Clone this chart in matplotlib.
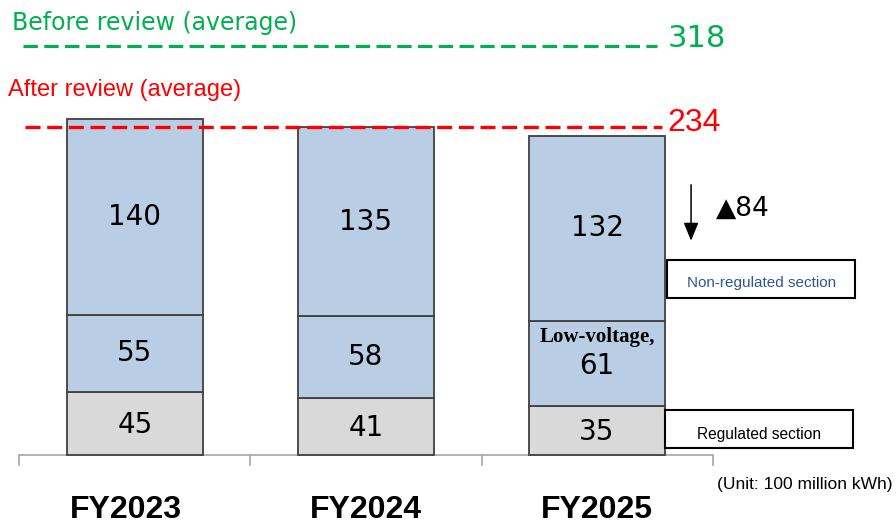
import numpy as np
import matplotlib.pyplot as plt
from matplotlib.patches import Rectangle

# electricity sales, unit: 100 million kWh
years = ["FY2023", "FY2024", "FY2025"]
regulated = [45, 41, 35]
low_voltage = [55, 58, 61]
non_regulated = [140, 135, 132]
before_avg = 318
after_avg = 234
reduction = 84

blue = "#B9CDE5"
gray = "#D9D9D9"
green = "#00B050"
red = "#FF0000"

fig = plt.figure(figsize=(8.96, 5.24), dpi=100)
ax = fig.add_axes([0, 0, 1, 1])
ax.set_xlim(-0.584, 3.294)
ax.set_ylim(-49.3, 325)
ax.axis("off")

x = np.arange(len(years))
w = 0.589
reg = np.array(regulated)
low = np.array(low_voltage)
non = np.array(non_regulated)

ax.bar(x, reg, w, color=gray, edgecolor="#404040", linewidth=1.3, zorder=2)
ax.bar(x, low, w, bottom=reg, color=blue, edgecolor="#404040", linewidth=1.3, zorder=2)
ax.bar(x, non, w, bottom=reg + low, color=blue, edgecolor="#404040", linewidth=1.3, zorder=2)

num_font = dict(fontsize=20, family="DejaVu Sans", color="black", ha="center", va="center", zorder=4)
for i in range(len(years)):
    ax.text(x[i], reg[i] / 2 - 1, str(reg[i]), **num_font)
    if i == 2:
        ax.text(x[i], reg[i] + low[i] / 2 - 2, str(low[i]), **num_font)
        ax.text(x[i], reg[i] + low[i] / 2 + 19, "Low-voltage,", fontsize=15,
                family="Liberation Serif", fontweight="bold", ha="center", va="center", zorder=4)
    else:
        ax.text(x[i], reg[i] + low[i] / 2, str(low[i]), **num_font)
    ax.text(x[i], reg[i] + low[i] + non[i] / 2, str(non[i]), **num_font)

# category bracket along the bottom
ax.plot([-0.5, 2.5], [0, 0], color="#A6A6A6", lw=1.2, zorder=1, solid_capstyle="butt")
for t in [-0.5, 0.5, 1.5, 2.5]:
    ax.plot([t, t], [0, -7.5], color="#A6A6A6", lw=1.2, zorder=1)
for i, y in enumerate(years):
    ax.text(x[i] - (0.04 if i == 0 else 0), -39.5, y, fontsize=23, family="Liberation Sans",
            fontweight="bold", ha="center", va="center")
ax.text(3.281, -21.4, "(Unit: 100 million kWh)", fontsize=12.5, family="Liberation Sans",
        ha="right", va="center")

# average levels
ax.plot([-0.476, 2.281], [after_avg, after_avg], color=red, lw=2.4,
        dashes=(4.5, 2.0), zorder=3)
ax.text(-0.55, 261, "After review (average)", fontsize=17, family="Liberation Sans",
        color=red, ha="left", va="center")
ax.text(2.305, after_avg + 3, str(after_avg), fontsize=23, family="Liberation Sans",
        color=red, ha="left", va="center")

xt = ax.get_xaxis_transform()
ax.plot([-0.485, 2.26], [0.912, 0.912], color=green, lw=2.3, dashes=(4.5, 2.0),
        transform=xt, zorder=3)
ax.text(-0.532, 0.956, "Before review (average)", fontsize=17, family="DejaVu Sans",
        color=green, ha="left", va="center", transform=xt)
ax.text(2.305, 0.927, str(before_avg), fontsize=22, family="DejaVu Sans",
        color=green, ha="left", va="center", transform=xt)

# reduction arrow
ax.annotate("", xy=(2.407, 153), xytext=(2.407, 193),
            arrowprops=dict(arrowstyle="-|>,head_length=1.1,head_width=0.45",
                            color="black", lw=1.1, shrinkA=0, shrinkB=0))
ax.text(2.515, 176, "\u25B2" + str(reduction), fontsize=19, family="DejaVu Sans",
        ha="left", va="center")

# section labels
ax.add_patch(Rectangle((2.303, 112.1), 0.814, 27.2, facecolor="white",
                       edgecolor="black", lw=1.5, zorder=3))
ax.text(2.71, 122.9, "Non-regulated section", fontsize=11, family="Liberation Sans",
        color="#2F5597", ha="center", va="center", zorder=4)
ax.add_patch(Rectangle((2.294, 5.0), 0.814, 27.1, facecolor="white",
                       edgecolor="black", lw=1.5, zorder=3))
ax.text(2.70, 14.5, "Regulated section", fontsize=11.2, family="Liberation Sans",
        color="black", ha="center", va="center", zorder=4)

fig.savefig("out.png", dpi=100)
